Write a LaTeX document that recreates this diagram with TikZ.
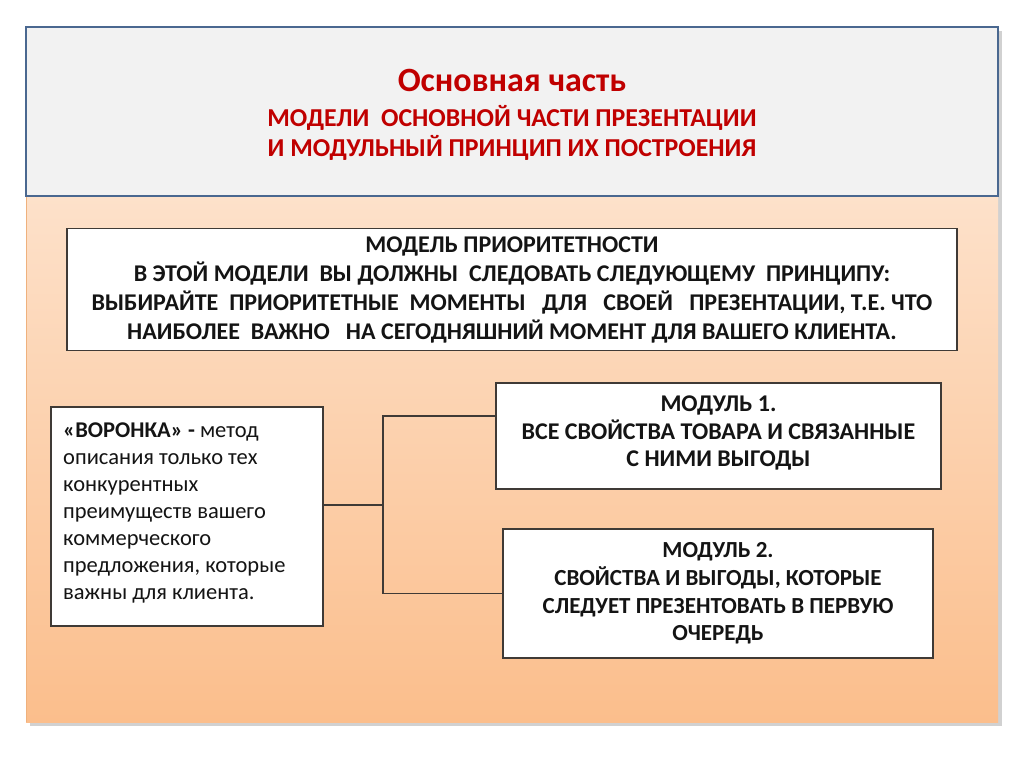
\documentclass[tikz,border=0pt]{standalone}
\usepackage{fontspec}
\setmainfont{Carlito}
\usetikzlibrary{positioning}
\definecolor{hdrfill}{HTML}{F2F2F2}
\definecolor{hdrline}{HTML}{4A6890}
\definecolor{hdrtext}{HTML}{C00000}
\definecolor{peachtop}{HTML}{FDE1CA}
\definecolor{peachbot}{HTML}{FBBE8C}
\definecolor{boxline}{HTML}{3F3A36}
\definecolor{bodytext}{HTML}{141414}
\tikzset{
  whitebox/.style={draw=boxline, line width=1.3pt, fill=white, text=bodytext, inner sep=0pt, align=center},
  conn/.style={draw=boxline, line width=1.6pt},
}
\begin{document}
\begin{tikzpicture}[x=1pt,y=-1pt]
\useasboundingbox (0,0) rectangle (1024,767);
\fill[white] (0,0) rectangle (1024,767);
% shadow
\fill[black!18] (30,31) rectangle (1002,726);
% peach panel
\shade[top color=peachtop, bottom color=peachbot] (26,196) rectangle (998,722);
\draw[color=peachbot!80!brown, line width=1pt] (26.5,196) -- (26.5,722);
% header
\node[draw=hdrline, line width=2.6pt, fill=hdrfill, minimum width=972pt, minimum height=169pt, inner sep=0pt] (hdr) at (512,111.5) {};
\node[text=hdrtext, font=\bfseries\fontsize{34}{38}\selectfont] (t1) at (512,80) {Основная часть};
\node[text=hdrtext, font=\bfseries\fontsize{25.8}{30}\selectfont, align=center] (t2) at (512,133) {МОДЕЛИ\ \ ОСНОВНОЙ ЧАСТИ ПРЕЗЕНТАЦИИ\\И МОДУЛЬНЫЙ ПРИНЦИП ИХ ПОСТРОЕНИЯ};
% priority model
\node[whitebox, minimum width=890pt, minimum height=122pt, font=\bfseries\fontsize{24}{29}\selectfont] (prio) at (512,289.5) {МОДЕЛЬ ПРИОРИТЕТНОСТИ\\В ЭТОЙ МОДЕЛИ\ \ ВЫ ДОЛЖНЫ\ \ СЛЕДОВАТЬ СЛЕДУЮЩЕМУ\ \ ПРИНЦИПУ:\\ВЫБИРАЙТЕ\ \ ПРИОРИТЕТНЫЕ\ \ МОМЕНТЫ\ \ \ ДЛЯ\ \ \ СВОЕЙ\ \ \ ПРЕЗЕНТАЦИИ, Т.Е. ЧТО\\НАИБОЛЕЕ\ \ ВАЖНО\ \ \ НА СЕГОДНЯШНИЙ МОМЕНТ ДЛЯ ВАШЕГО КЛИЕНТА.};
% funnel
\node[whitebox, minimum width=272pt, minimum height=219pt] (fun) at (187,516.5) {};
\node[text=bodytext, anchor=north west, align=left, inner sep=0pt, font=\fontsize{22.5}{27}\selectfont] (funtxt) at (63,422.5) {\textbf{«ВОРОНКА» -} метод\\описания только тех\\конкурентных\\преимуществ вашего\\коммерческого\\предложения, которые\\важны для клиента.};
% modules
\node[whitebox, minimum width=445pt, minimum height=106pt, font=\bfseries\fontsize{24}{27.5}\selectfont] (m1) at (718.5,436) {};
\node[text=bodytext, align=center, inner sep=0pt, font=\bfseries\fontsize{24}{27.5}\selectfont] (m1txt) at (718.5,433) {МОДУЛЬ 1.\\ВСЕ СВОЙСТВА ТОВАРА И СВЯЗАННЫЕ\\С НИМИ ВЫГОДЫ};
\node[whitebox, minimum width=430pt, minimum height=129pt, font=\bfseries\fontsize{23}{27.7}\selectfont] (m2) at (718,593.5) {МОДУЛЬ 2.\\СВОЙСТВА И ВЫГОДЫ, КОТОРЫЕ\\СЛЕДУЕТ ПРЕЗЕНТОВАТЬ В ПЕРВУЮ\\ОЧЕРЕДЬ};
% connectors
\coordinate (jn) at (383,505);
\draw[conn] ([yshift=11.5pt]fun.east) -- (jn);
\draw[conn] ([yshift=20pt]m1.west) -| (jn) |- (m2.west);
\end{tikzpicture}
\end{document}
